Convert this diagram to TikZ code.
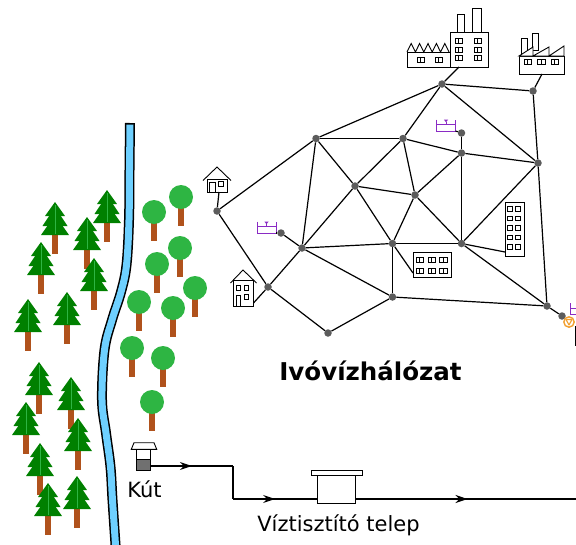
\documentclass[tikz,border=0pt]{standalone}
\usepackage{fontspec}
\setmainfont{DejaVu Sans}
\usetikzlibrary{arrows.meta, decorations.markings}
\definecolor{PineGreen}{HTML}{008000}
\definecolor{LeafGreen}{HTML}{2EB543}
\definecolor{Bark}{HTML}{B0521C}
\definecolor{RiverBlue}{HTML}{6ED0FF}
\definecolor{TankPurple}{HTML}{8A2BC4}
\definecolor{PumpOrange}{HTML}{F2A030}
\definecolor{JointGray}{HTML}{5C5C5C}
\definecolor{WellGray}{HTML}{707070}

\begin{document}
\begin{tikzpicture}[x=1pt, y=-1pt,
    pipe/.style={black, line width=1.2pt},
    joint/.style={circle, fill=JointGray, inner sep=0pt, minimum size=7.5pt},
    bld/.style={black, line width=0.9pt, fill=white},
    flow/.style={black, line width=1.2pt, postaction={decorate},
      decoration={markings, mark=at position 0.5 with {\arrow{Stealth[length=12pt, width=8pt]}}}},
    txt/.style={inner sep=0pt, font=\fontsize{21}{25}\selectfont},
    pane/.pic={\draw[bld] (0,0) rectangle (7.5,5.5) (3.75,0) -- (3.75,5.5);},
    conifer/.pic={
      \fill[Bark] (-2.75,32) rectangle (2.75,52);
      \fill[PineGreen] (0,13) -- (-14,33) -- (14,33) -- cycle;
      \fill[PineGreen] (0,5) -- (-12.5,24) -- (12.5,24) -- cycle;
      \fill[PineGreen] (0,0) -- (-10,14) -- (10,14) -- cycle;
      \draw[LeafGreen, line width=0.4pt] (0,3) -- (0,32);},
    leaftree/.pic={
      \fill[Bark] (-2.75,0) rectangle (2.75,29);
      \fill[LeafGreen] (0,0) circle[radius=12];},
    tank/.pic={
      \draw[TankPurple, line width=0.9pt] (0,0) -- (0,11.5) -- (19,11.5) -- (19,0)
        (0,5) -- (19,5) (9.5,2) -- (9.5,5);
      \fill[TankPurple] (7.3,0) -- (11.7,0) -- (9.5,2.7) -- cycle;}]

\useasboundingbox (0,0) rectangle (576,544);

% river
\draw[line width=10pt] plot[smooth, tension=0.6] coordinates {(130,123) (129.5,170) (129,220) (126.5,265) (121,292) (112,320) (104.5,350) (102,400) (106,433) (110.5,467) (112.5,500) (116,552)};
\draw[RiverBlue, line width=7pt] plot[smooth, tension=0.6] coordinates {(130,124.6) (129.5,170) (129,220) (126.5,265) (121,292) (112,320) (104.5,350) (102,400) (106,433) (110.5,467) (112.5,500) (116,552)};

% forest
\foreach \x/\y in {107/190, 55/202, 87/217, 41/242, 94/258, 67/292, 28/299,
                   39/362, 71/377, 26/402, 78/418, 40/443, 77/476, 48/483}
  \pic at (\x,\y) {conifer};
\foreach \x/\y in {181/197, 154/212, 180/248, 157/264, 195/288, 139/302,
                   173/308, 132/348, 163/358, 152/402}
  \pic at (\x,\y) {leaftree};

% junctions of the network
\foreach \n/\x/\y in {jA/442/84, jB/533/91, jC/316/138.5, jD/403/138.5, jE/461.5/153,
                      jF/538/163, jG/217/211, jH/355/186, jI/415/195, jJ/302/248,
                      jK/392.5/243.5, jL/461.5/243.5, jM/268/287, jN/392.5/297, jO/328/333,
                      jP/547/306, jQ/562/316, tA/281/233, tB/461.5/133}
  \node[joint] (\n) at (\x,\y) {};

\foreach \a/\b in {jA/jB, jA/jC, jA/jD, jA/jF, jB/jF, jC/jD, jC/jH, jC/jJ, jC/jG,
                   jD/jH, jD/jI, jD/jE, jE/jI, jE/jF, jE/jL, jE/tB, jH/jI, jH/jJ,
                   jH/jK, jI/jK, jI/jL, jF/jL, jF/jP, jK/jL, jK/jN, jJ/jK, jJ/tA,
                   jJ/jM, jJ/jN, jG/jM, jM/jO, jO/jN, jN/jP, jL/jP, jP/jQ}
  \draw[pipe] (\a) -- (\b);

% factories
\draw[bld] (457,14) rectangle (464,32);
\draw[bld] (472,8) rectangle (481,32);
\draw[bld] (450,32) rectangle (488,67);
\draw[bld] (407,52) rectangle (450,67);
\draw[line width=0.9pt] (407,52) -- (411.2,43.5) -- (415.4,52) -- (419.6,43.5) -- (423.8,52)
  -- (428,43.5) -- (432.2,52) -- (436.4,43.5) -- (440.6,52) -- (444.8,43.5) -- (449,52);
\foreach \x/\y in {455/38, 474/38, 455/47, 474/47, 455/55, 474/55, 417/57, 435/57}
  \pic at (\x,\y) {pane};
\coordinate (bigfactory) at (459,67);

\draw[bld] (521,38) rectangle (527,54);
\draw[bld] (532,33.5) rectangle (538,50);
\draw[bld] (519,56) rectangle (564,74);
\draw[bld] (519,56) -- (533,47) -- (533,56) -- (549,47) -- (549,56) -- (564,46) -- (564,56) -- cycle;
\foreach \x in {524, 537.5, 551}
  \pic at (\x,59) {pane};
\coordinate (smallfactory) at (542,74);

% houses
\draw[bld] (207,179) rectangle (227,192);
\draw[line width=0.9pt] (203,180.5) -- (217,167) -- (231,180.5);
\draw[bld] (209,182) rectangle (215,192);
\draw[bld] (218,181) rectangle (223,186);
\coordinate (cottage) at (219,192);

\draw[bld] (233,280) rectangle (253,306);
\draw[line width=0.9pt] (230.5,283) -- (243,270) -- (256.5,283);
\draw[bld] (236.5,285.5) rectangle (240.5,290);
\draw[bld] (244,285.5) rectangle (248.5,290);
\draw[bld] (244,294) rectangle (248.5,299);
\draw[bld] (236.5,295) rectangle (240.5,306);
\coordinate (house) at (253.5,303);

% blocks of flats
\draw[bld] (413,252) rectangle (451,277);
\foreach \x in {416, 428, 439.5}
  \foreach \y in {257, 268}
    \pic at (\x,\y) {pane};
\coordinate (flats) at (413,273);

\draw[bld] (505,202) rectangle (524,256);
\foreach \x in {507.7, 515.7}
  \foreach \y in {206.7, 216, 225.5, 235, 244.3}
    \draw[bld] (\x,\y) rectangle ++(4.7,4.7);
\coordinate (tower) at (505,252);

\foreach \a/\b in {jA/bigfactory, jB/smallfactory, jG/cottage, jM/house, jK/flats, jL/tower}
  \draw[pipe] (\a) -- (\b);

% reservoirs and pump
\pic at (257,221.5) {tank};
\pic at (436.5,119.5) {tank};
\pic at (570,303) {tank};
\coordinate (tank1) at (276,233);
\coordinate (tank2) at (455.5,131);
\draw[pipe] (tank1) -- (tA);
\draw[pipe] (tank2) -- (tB);

\coordinate (pump) at (569,322);
\coordinate (pumpfoot) at (575.5,326);
\coordinate (drain) at (575.5,346);
\draw[pipe] (pumpfoot) -- (drain);
\draw[PumpOrange, line width=1.4pt, fill=white] (pump) circle[radius=5.2];
\draw[PumpOrange, line width=1.1pt, line join=round] (566,319.5) -- (572,319.5) -- (569,325) -- cycle;

% well and treatment plant
\draw[bld] (134,442.7) -- (154,442.7) -- (156.7,449.3) -- (131.3,449.3) -- cycle;
\draw[bld] (136.7,449.3) rectangle (150.7,470.7);
\draw[line width=0.9pt, fill=WellGray] (136.7,459.3) rectangle (150.7,470.7);

\draw[bld] (317.3,475.5) rectangle (355,503.3);
\draw[bld] (311.7,470.7) rectangle (362.3,475.7);

\coordinate (wellout) at (150.7,466);
\coordinate (bendA) at (233,466);
\coordinate (bendB) at (233,499);
\coordinate (plantin) at (317.3,499);
\coordinate (plantout) at (355,499);
\coordinate (outlet) at (580,499);
\draw[flow] (wellout) -- (bendA);
\draw[pipe] (bendA) -- (bendB);
\draw[flow] (bendB) -- (plantin);
\draw[flow] (plantout) -- (outlet);

% labels
\node[txt, anchor=base] (wellname) at (144.5,497) {Kút};
\node[txt, anchor=base] (plantname) at (338.5,531) {Víztisztító telep};
\node[inner sep=0pt, anchor=base, font=\fontsize{24.5}{28}\selectfont\bfseries] (netname) at (370.5,380) {Ivóvízhálózat};
\end{tikzpicture}
\end{document}
